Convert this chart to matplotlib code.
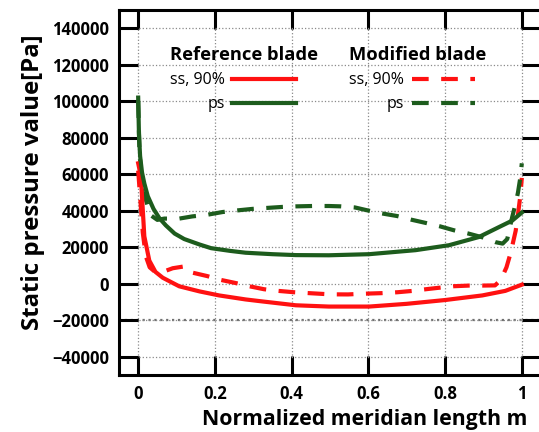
import numpy as np
import matplotlib.pyplot as plt
from matplotlib.lines import Line2D

plt.rcParams['font.family'] = ['Open Sans', 'DejaVu Sans']

# meridian position (normalized) and static pressure [Pa]
ref_ss_m = [0.0, 0.004, 0.008, 0.016, 0.029, 0.045, 0.064, 0.085, 0.107, 0.16, 0.211,
            0.28, 0.324, 0.411, 0.497, 0.602, 0.70, 0.801, 0.897, 0.957, 1.0]
ref_ss_p = [66000, 62000, 55000, 26000, 12700, 6500, 3300, 1000, -1400, -4200, -6400,
            -8600, -9700, -11800, -12500, -12500, -11000, -8900, -6400, -3900, -500]

ref_ps_m = [0.0, 0.002, 0.005, 0.01, 0.016, 0.025, 0.04, 0.055, 0.072, 0.095,
            0.12, 0.16, 0.19, 0.24, 0.28, 0.35, 0.411, 0.497, 0.602, 0.723,
            0.81, 0.888, 0.94, 0.975, 1.0]
ref_ps_p = [102000, 82000, 70000, 61000, 55000, 48000, 41000, 36000, 32000, 27500,
            24500, 21500, 19500, 18000, 17000, 16200, 15700, 15600, 16200, 18400,
            21100, 25600, 31000, 34600, 39000]

mod_ss_m = [0.0, 0.006, 0.012, 0.02, 0.03, 0.045, 0.068, 0.09, 0.12, 0.141,
            0.18, 0.211, 0.254, 0.289, 0.328, 0.362, 0.406, 0.45, 0.50, 0.547,
            0.582, 0.634, 0.676, 0.719, 0.75, 0.786, 0.823, 0.863, 0.898, 0.93,
            0.945, 0.96, 0.971, 0.984, 0.99, 0.996, 1.0]
mod_ss_p = [62000, 45000, 28000, 15000, 9000, 6300, 6800, 8500, 9500, 6100,
            4200, 2300, 400, -1350, -3000, -3850, -4650, -5200, -5800, -5850,
            -5500, -5150, -4650, -3850, -3000, -2150, -1350, -1000, -1000, -900,
            2000, 9000, 17000, 29000, 38000, 48000, 58000]

mod_ps_m = [0.0, 0.003, 0.008, 0.011, 0.02, 0.033, 0.05, 0.068, 0.107, 0.141,
            0.18, 0.22, 0.259, 0.297, 0.332, 0.376, 0.411, 0.454, 0.497, 0.529,
            0.565, 0.602, 0.636, 0.675, 0.712, 0.75, 0.786, 0.823, 0.859, 0.898,
            0.931, 0.95, 0.962, 0.975, 0.984, 0.99, 0.996, 1.0]
mod_ps_p = [100000, 75000, 58000, 50700, 45900, 37500, 35000, 35700, 35700, 36900,
            37800, 39300, 40200, 41000, 41500, 42100, 42400, 42600, 42600, 42400,
            41800, 40000, 38500, 37100, 35100, 33300, 31500, 29300, 27600, 25400,
            22800, 22000, 24500, 36600, 44000, 50000, 58000, 66000]

xticks = [0, 0.2, 0.4, 0.6, 0.8, 1]
xticklabels = ['0', '0.2', '0.4', '0.6', '0.8', '1']
yticks = list(range(-40000, 140001, 20000))

red = '#ff1111'
green = '#1d5c1d'
lw = 3.0
dash = (0, (4, 3))

fig = plt.figure(figsize=[5.39, 4.32], dpi=100)
ax = fig.add_axes([119/539, 57/432, 422/539, 365/432])

ax.plot(mod_ss_m, mod_ss_p, color=red, lw=lw, ls=dash)
ax.plot(mod_ps_m, mod_ps_p, color=green, lw=lw, ls=dash)
ax.plot(ref_ss_m, ref_ss_p, color=red, lw=lw)
ax.plot(ref_ps_m, ref_ps_p, color=green, lw=lw)

ax.set_xlim([-0.05, 1.05])
ax.set_ylim([-50000, 150000])
ax.set_xticks(xticks)
ax.set_xticklabels(xticklabels)
ax.set_yticks(yticks)
ax.grid(True, ls=':', color='#8a8a8a', lw=0.9)
ax.axhline(-20000, ls=':', color='#707070', lw=1.6, zorder=0.5)

ax.tick_params(direction='in', length=14, width=2.2, top=True, right=True,
               labelsize=12, pad=7)
for lab in ax.get_xticklabels() + ax.get_yticklabels():
    lab.set_fontweight('bold')
for sp in ax.spines.values():
    sp.set_linewidth(2.2)

ax.set_xlabel('Normalized meridian length m', fontsize=15.3, fontweight='bold')
ax.set_ylabel('Static pressure value[Pa]', fontsize=17.3, fontweight='bold')
ax.xaxis.set_label_coords(0.583, -0.094)
ax.yaxis.set_label_coords(-0.175, 0.527)

# two legend blocks, labels to the left of the line samples
h_ref = [Line2D([], [], color=red, lw=lw), Line2D([], [], color=green, lw=lw)]
h_mod = [Line2D([], [], color=red, lw=lw, ls=dash), Line2D([], [], color=green, lw=lw, ls=dash)]
common = dict(frameon=False, markerfirst=False, fontsize=11.5, handlelength=4.0,
              handletextpad=0.45, labelspacing=0.5, loc='upper left',
              title_fontproperties={'weight': 'bold', 'size': 13.2})
leg1 = ax.legend(h_ref, ['ss, 90%', 'ps'], title='Reference blade',
                 bbox_to_anchor=(0.087, 0.94), **common)
leg1._legend_box.align = 'left'
ax.add_artist(leg1)
leg2 = ax.legend(h_mod, ['ss, 90%', 'ps'], title='Modified blade',
                 bbox_to_anchor=(0.512, 0.94), **common)
leg2._legend_box.align = 'left'

fig.savefig('out.png', dpi=100)
